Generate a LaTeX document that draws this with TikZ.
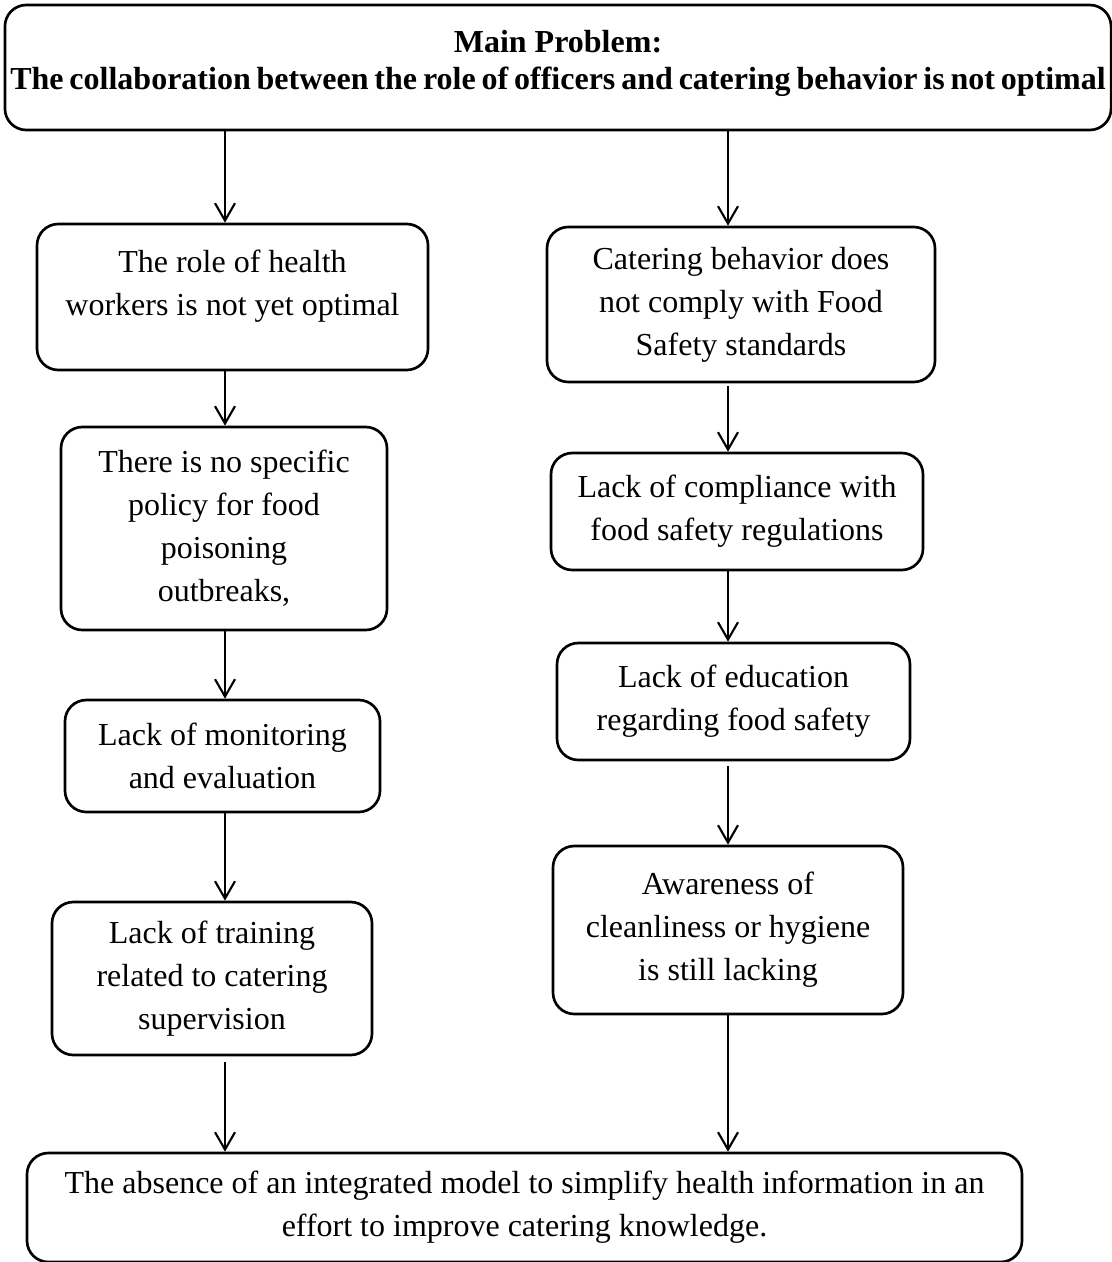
\documentclass[tikz,border=0pt]{standalone}
\usepackage{fontspec}
\setmainfont{Liberation Serif}
\usetikzlibrary{arrows.meta}
\newlength{\pxu}
\setlength{\pxu}{0.375pt}
\newcommand{\tightwords}{\spaceskip 2.2pt plus 1pt minus 0.5pt\relax}

\begin{document}
\begin{tikzpicture}[
  x=0.375pt, y=-0.375pt,
  every node/.style={font=\fontsize{12}{16.1}\selectfont},
  probbox/.style={rectangle, draw=black, line width=1pt, rounded corners=8pt, align=center, inner sep=2pt},
  titlebox/.style={probbox, font=\fontsize{12}{13.9}\selectfont\bfseries},
  flow/.style={-{Straight Barb[length=6.5pt, width=7.5pt]}, line width=0.8pt},
]
\useasboundingbox (0,0) rectangle (1111,1262);

% ---- main problem ----
\node[titlebox, minimum width=1100\pxu, minimum height=125\pxu, text depth=5.4pt] (main) at (558, 67.5)
  {Main Problem:\\\tightwords The collaboration between the role of officers and catering behavior is not optimal};

% ---- left column: health workers ----
\node[probbox, minimum width=391\pxu, minimum height=146\pxu, text depth=10.6pt] (l1) at (232.5, 297)
  {The role of health\\workers is not yet optimal};
\node[probbox, minimum width=326\pxu, minimum height=203\pxu] (l2) at (224, 528.5)
  {There is no specific\\policy for food\\poisoning\\outbreaks,};
\node[probbox, minimum width=315\pxu, minimum height=112\pxu] (l3) at (222.5, 756)
  {Lack of monitoring\\and evaluation};
\node[probbox, minimum width=320\pxu, minimum height=153\pxu] (l4) at (212, 978.5)
  {Lack of training\\related to catering\\supervision};

% ---- right column: catering behavior ----
\node[probbox, minimum width=388\pxu, minimum height=155\pxu] (r1) at (741, 304.5)
  {Catering behavior does\\not comply with Food\\Safety standards};
\node[probbox, minimum width=372\pxu, minimum height=117\pxu] (r2) at (737, 511.5)
  {Lack of compliance with\\food safety regulations};
\node[probbox, minimum width=353\pxu, minimum height=117\pxu] (r3) at (733.5, 701.5)
  {Lack of education\\regarding food safety};
\node[probbox, minimum width=350\pxu, minimum height=168\pxu] (r4) at (728, 930)
  {Awareness of\\cleanliness or hygiene\\is still lacking};

% ---- outcome ----
\node[probbox, minimum width=995\pxu, minimum height=109\pxu] (out) at (524.5, 1207.5)
  {The absence of an integrated model to simplify health information in an\\effort to improve catering knowledge.};

% ---- arrows ----
\coordinate (cl) at (225, 0);
\coordinate (cr) at (728, 0);
\draw[flow] (main.south -| cl) -- (l1.north -| cl);
\draw[flow] (l1.south -| cl) -- (l2.north -| cl);
\draw[flow] (l2.south -| cl) -- (l3.north -| cl);
\draw[flow] (l3.south -| cl) -- (l4.north -| cl);
\draw[flow] ([yshift=-6\pxu]l4.south -| cl) -- (out.north -| cl);
\draw[flow] (main.south -| cr) -- (r1.north -| cr);
\draw[flow] ([yshift=-3\pxu]r1.south -| cr) -- (r2.north -| cr);
\draw[flow] (r2.south -| cr) -- (r3.north -| cr);
\draw[flow] ([yshift=-5\pxu]r3.south -| cr) -- (r4.north -| cr);
\draw[flow] (r4.south -| cr) -- (out.north -| cr);

\end{tikzpicture}
\end{document}
